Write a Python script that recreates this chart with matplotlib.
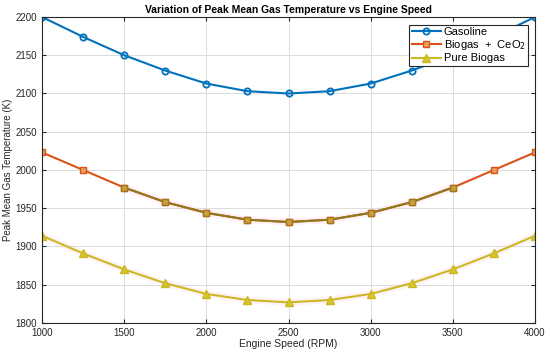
import numpy as np
import matplotlib.pyplot as plt

plt.rcParams['font.family'] = ['Liberation Sans', 'DejaVu Sans']

# %% data

speed = [1000, 1250, 1500, 1750, 2000, 2250, 2500, 2750, 3000, 3250, 3500, 3750, 4000]
gasoline = [2200, 2174, 2150, 2130, 2113, 2103, 2100, 2103, 2113, 2130, 2150, 2174, 2200]
biogas_ceo2 = [2023, 2000, 1977, 1958, 1944, 1935, 1932, 1935, 1944, 1958, 1977, 2000, 2023]
pure_biogas = [1914, 1891, 1870, 1852, 1838, 1830, 1827, 1830, 1838, 1852, 1870, 1891, 1914]

x_ticks = [1000, 1500, 2000, 2500, 3000, 3500, 4000]
y_ticks = [1800, 1850, 1900, 1950, 2000, 2050, 2100, 2150, 2200]

# %% plot

fig = plt.figure(figsize=(5.5, 3.54), dpi=100)
ax = fig.add_axes([0.0764, 0.0876, 0.8963, 0.8644])

ax.plot(speed, gasoline, color='#0072BD', lw=1.5, marker='o', ms=4.5,
        mfc='none', mew=1.3, label='Gasoline')
ax.plot(speed, biogas_ceo2, color='#D95319', lw=1.5, marker='s', ms=4,
        mfc='#e8a05a', mew=1.0, label=r'Biogas  +  CeO$_2$')

# middle part of the CeO2 curve shows a darker overlapping trace
mid = slice(2, 11)
ax.plot(speed[mid], biogas_ceo2[mid], color='#ffd6ee', lw=5, alpha=0.35, zorder=1.5)
ax.plot(speed[mid], biogas_ceo2[mid], color='#8f7a1c', lw=1.5, marker='s', ms=4,
        mfc='#c9a040', mec='#a6751c', mew=1.0, zorder=2.5)

ax.plot(speed, pure_biogas, color='#ccb820', lw=1.5, marker='^', ms=5.5,
        mfc='#d8c232', mew=1.0, label='Pure Biogas')
ax.plot(speed, pure_biogas, color='#ffd6ee', lw=5, alpha=0.3, zorder=1.4)

ax.set_xlim(1000, 4000)
ax.set_ylim(1800, 2200)
ax.set_xticks(x_ticks)
ax.set_yticks(y_ticks)
ax.tick_params(labelsize=7, length=3, direction='in', color='#262626',
               labelcolor='#262626', top=True, right=True)
ax.grid(True, color='#dcdcdc', lw=0.7)
for s in ax.spines.values():
    s.set_color('#262626')
    s.set_linewidth(0.8)

ax.set_title('Variation of Peak Mean Gas Temperature vs Engine Speed',
             fontsize=7.5, fontweight='bold', pad=3)
ax.set_xlabel('Engine Speed (RPM)', fontsize=7.5, labelpad=1, color='#262626')
ax.set_ylabel('Peak Mean Gas Temperature (K)', fontsize=7, labelpad=2, color='#262626')

leg = ax.legend(loc='upper right', bbox_to_anchor=(0.986, 0.974), fontsize=8,
                frameon=True, fancybox=False, edgecolor='#262626',
                borderpad=0.2, labelspacing=0.1, handlelength=2.6,
                handletextpad=0.3, borderaxespad=0.0)
leg.get_frame().set_linewidth(0.8)
leg.get_frame().set_alpha(1)

plt.savefig('out.png', dpi=100)
